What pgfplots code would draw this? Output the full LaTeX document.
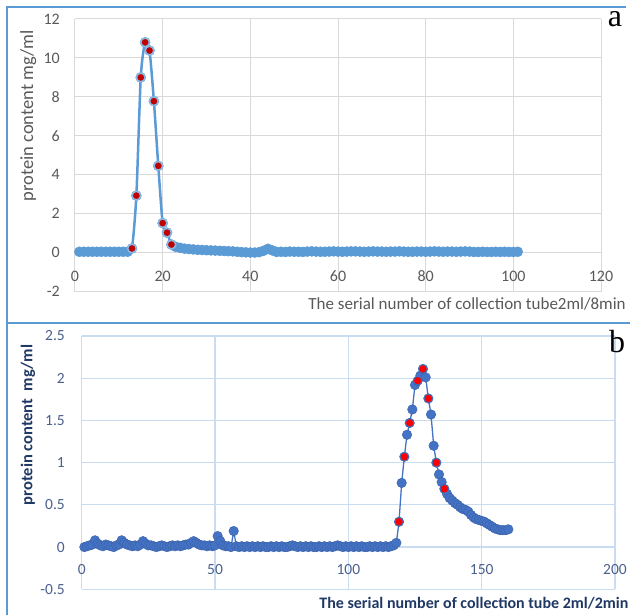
\documentclass[border=0pt]{standalone}
\usepackage{pgfplots}
\pgfplotsset{compat=1.18}
\usepackage{pgfplotstable}
\usepackage{fontspec}
\setmainfont{Carlito}
\newfontfamily\panelfont{Liberation Serif}

\definecolor{lineA}{HTML}{5B9BD5}
\definecolor{ringA}{HTML}{8DB8E2}
\definecolor{redA}{HTML}{C00000}
\definecolor{gridA}{HTML}{D9D9D9}
\definecolor{zeroA}{HTML}{BFBFBF}
\definecolor{textA}{HTML}{595959}
\definecolor{lineB}{HTML}{4472C4}
\definecolor{gridB}{HTML}{CADCF2}
\definecolor{tickB}{HTML}{4A5F8C}
\definecolor{labelB}{HTML}{1F3864}
\definecolor{frame}{HTML}{5B9BD5}

% panel a: tube number, protein content, c=1 for the red marked tubes
\pgfplotstableread[row sep=\\]{
x y c\\
1 0.05 0\\ 2 0.05 0\\ 3 0.05 0\\ 4 0.05 0\\ 5 0.05 0\\ 6 0.05 0\\
7 0.05 0\\ 8 0.05 0\\ 9 0.05 0\\ 10 0.05 0\\ 11 0.05 0\\ 12 0.05 0\\
13 0.22 1\\ 14 2.93 1\\ 15 9.0 1\\ 16 10.8 1\\ 17 10.38 1\\ 18 7.78 1\\
19 4.46 1\\ 20 1.52 1\\ 21 1.03 1\\ 22 0.42 1\\
23 0.30 0\\ 24 0.25 0\\ 25 0.21 0\\ 26 0.19 0\\ 27 0.17 0\\ 28 0.15 0\\
29 0.14 0\\ 30 0.13 0\\ 31 0.12 0\\ 32 0.11 0\\ 33 0.10 0\\ 34 0.09 0\\
35 0.08 0\\ 36 0.07 0\\ 37 0.05 0\\ 38 0.03 0\\ 39 0.02 0\\ 40 0.01 0\\
41 0.01 0\\ 42 0.03 0\\ 43 0.10 0\\ 44 0.20 0\\ 45 0.12 0\\ 46 0.04 0\\
47 0.05 0\\ 48 0.04 0\\ 49 0.06 0\\ 50 0.05 0\\ 51 0.05 0\\ 52 0.04 0\\
53 0.06 0\\ 54 0.07 0\\ 55 0.06 0\\ 56 0.05 0\\ 57 0.05 0\\ 58 0.06 0\\
59 0.07 0\\ 60 0.06 0\\ 61 0.05 0\\ 62 0.06 0\\ 63 0.07 0\\ 64 0.07 0\\
65 0.06 0\\ 66 0.05 0\\ 67 0.06 0\\ 68 0.07 0\\ 69 0.06 0\\ 70 0.06 0\\
71 0.05 0\\ 72 0.06 0\\ 73 0.06 0\\ 74 0.07 0\\ 75 0.06 0\\ 76 0.05 0\\
77 0.05 0\\ 78 0.06 0\\ 79 0.06 0\\ 80 0.05 0\\ 81 0.06 0\\ 82 0.07 0\\
83 0.06 0\\ 84 0.05 0\\ 85 0.06 0\\ 86 0.06 0\\ 87 0.05 0\\ 88 0.06 0\\
89 0.07 0\\ 90 0.06 0\\ 91 0.04 0\\ 92 0.04 0\\ 93 0.05 0\\ 94 0.04 0\\
95 0.04 0\\ 96 0.05 0\\ 97 0.04 0\\ 98 0.05 0\\ 99 0.04 0\\ 100 0.04 0\\
101 0.05 0\\
}\tubesA

% panel b
\pgfplotstableread[row sep=\\]{
x y c\\
1 0.00 0\\ 2 0.01 0\\ 3 0.02 0\\ 4 0.03 0\\ 5 0.08 0\\ 6 0.04 0\\
7 0.02 0\\ 8 0.01 0\\ 9 0.03 0\\ 10 0.02 0\\ 11 0.01 0\\ 12 0.00 0\\
13 0.02 0\\ 14 0.03 0\\ 15 0.08 0\\ 16 0.05 0\\ 17 0.03 0\\ 18 0.02 0\\
19 0.01 0\\ 20 0.02 0\\ 21 0.01 0\\ 22 0.03 0\\ 23 0.07 0\\ 24 0.04 0\\
25 0.02 0\\ 26 0.02 0\\ 27 0.01 0\\ 28 0.00 0\\ 29 0.01 0\\ 30 0.02 0\\
31 0.01 0\\ 32 0.00 0\\ 33 0.01 0\\ 34 0.02 0\\ 35 0.01 0\\ 36 0.02 0\\
37 0.01 0\\ 38 0.02 0\\ 39 0.03 0\\ 40 0.03 0\\ 41 0.05 0\\ 42 0.07 0\\
43 0.05 0\\ 44 0.03 0\\ 45 0.02 0\\ 46 0.02 0\\ 47 0.01 0\\ 48 0.02 0\\
49 0.01 0\\ 50 0.02 0\\ 51 0.13 0\\ 52 0.07 0\\ 53 0.02 0\\ 54 0.01 0\\
55 0.01 0\\ 56 0.00 0\\ 57 0.19 0\\ 58 0.01 0\\ 59 0.00 0\\ 60 0.01 0\\
61 0.00 0\\ 62 0.01 0\\ 63 0.00 0\\ 64 0.01 0\\ 65 0.00 0\\ 66 0.01 0\\
67 0.00 0\\ 68 0.01 0\\ 69 0.00 0\\ 70 0.00 0\\ 71 0.01 0\\ 72 0.00 0\\
73 0.01 0\\ 74 0.00 0\\ 75 0.01 0\\ 76 0.00 0\\ 77 0.00 0\\ 78 0.01 0\\
79 0.02 0\\ 80 0.01 0\\ 81 0.00 0\\ 82 0.01 0\\ 83 0.00 0\\ 84 0.01 0\\
85 0.00 0\\ 86 0.01 0\\ 87 0.00 0\\ 88 0.00 0\\ 89 0.01 0\\ 90 0.00 0\\
91 0.01 0\\ 92 0.00 0\\ 93 0.01 0\\ 94 0.00 0\\ 95 0.01 0\\ 96 0.02 0\\
97 0.01 0\\ 98 0.00 0\\ 99 0.01 0\\ 100 0.00 0\\ 101 0.01 0\\ 102 0.00 0\\
103 0.01 0\\ 104 0.00 0\\ 105 0.01 0\\ 106 0.00 0\\ 107 0.00 0\\ 108 0.01 0\\
109 0.00 0\\ 110 0.01 0\\ 111 0.00 0\\ 112 0.01 0\\ 113 0.00 0\\ 114 0.01 0\\
115 0.00 0\\ 116 0.01 0\\ 117 0.02 0\\ 118 0.05 0\\
119 0.30 1\\ 120 0.76 0\\ 121 1.07 1\\ 122 1.33 0\\ 123 1.47 1\\ 124 1.63 0\\
125 1.92 0\\ 126 1.97 1\\ 127 2.03 0\\ 128 2.11 1\\ 129 2.01 0\\ 130 1.76 1\\
131 1.57 0\\ 132 1.20 0\\ 133 1.00 1\\ 134 0.86 0\\ 135 0.77 0\\ 136 0.69 1\\
137 0.63 0\\ 138 0.58 0\\ 139 0.55 0\\ 140 0.52 0\\ 141 0.50 0\\ 142 0.47 0\\
143 0.45 0\\ 144 0.44 0\\ 145 0.42 0\\ 146 0.38 0\\ 147 0.35 0\\ 148 0.33 0\\
149 0.32 0\\ 150 0.31 0\\ 151 0.30 0\\ 152 0.28 0\\ 153 0.26 0\\ 154 0.24 0\\
155 0.22 0\\ 156 0.21 0\\ 157 0.20 0\\ 158 0.20 0\\ 159 0.20 0\\ 160 0.21 0\\
}\tubesB

\begin{document}
\begin{tikzpicture}[x=1pt,y=1pt]
\useasboundingbox (0pt,0pt) rectangle (630pt,615pt);

% panel frames
\draw[frame, line width=2pt] (7pt,0pt) -- (7pt,608pt) -- (626pt,608pt);
\draw[frame, line width=2pt] (7pt,292pt) -- (630pt,292pt);

% ---- panel a ----
\begin{axis}[
    at={(75pt,323.3pt)}, anchor=south west,
    scale only axis, width=526pt, height=272.7pt,
    xmin=0, xmax=120, ymin=-2, ymax=12,
    xtick={0,20,...,120}, ytick={-2,0,...,12},
    grid=major, major grid style={gridA, line width=1pt},
    axis line style={draw=none}, major tick length=0pt,
    extra y ticks={0}, extra y tick labels={},
    extra y tick style={grid style={zeroA, line width=1.2pt}},
    /pgf/number format/assume math mode=true,
    tick label style={font=\fontsize{16}{18}\selectfont, text=textA, inner sep=0pt},
    x tick label style={anchor=center, yshift=15.7pt},
    y tick label style={anchor=east, xshift=-15pt},
    xlabel={The serial number of collection tube2ml/8min},
    xlabel style={at={(axis description cs:0.437,-0.045)}, anchor=west,
        font=\fontsize{17}{20}\selectfont, text=textA},
    ylabel={protein content mg/ml},
    ylabel style={at={(axis description cs:-0.089,0.645)}, anchor=center,
        font=\fontsize{18.5}{20}\selectfont, text=textA},
    clip=false,
]
\addplot[lineA, line width=2.5pt, smooth, tension=0.4,
    mark=*, mark size=5pt, mark options={fill=lineA, draw=lineA, line width=0.5pt}]
    table[x=x, y=y] {\tubesA};
\addplot[only marks, mark=*, mark size=4.3pt,
    mark options={fill=redA, draw=ringA, line width=1.5pt},
    restrict expr to domain={\thisrow{c}}{1:1}]
    table[x=x, y=y] {\tubesA};
\end{axis}

% ---- panel b ----
\begin{axis}[
    at={(81.7pt,25.7pt)}, anchor=south west,
    scale only axis, width=533.3pt, height=253.3pt,
    xmin=0, xmax=200, ymin=-0.5, ymax=2.5,
    xtick={0,50,...,200}, ytick={-0.5,0,...,2.5},
    grid=major, major grid style={gridB, line width=1.2pt},
    axis line style={draw=none}, major tick length=0pt,
    /pgf/number format/assume math mode=true,
    tick label style={font=\fontsize{15.5}{18}\selectfont, text=tickB, inner sep=0pt},
    x tick label style={anchor=center, yshift=19.3pt},
    y tick label style={anchor=east, xshift=-16.7pt},
    xlabel={The serial number of collection tube 2ml/2min},
    xlabel style={at={(axis description cs:0.439,-0.054)}, anchor=west,
        font=\bfseries\fontsize{16}{18}\selectfont, text=labelB},
    ylabel={protein content\ \ mg/ml},
    ylabel style={at={(axis description cs:-0.1007,0.6486)}, anchor=center,
        font=\bfseries\fontsize{16.5}{18}\selectfont, text=labelB},
    clip=false,
]
\addplot[lineB, line width=1.3pt,
    mark=*, mark size=4.8pt, mark options={fill=lineB, draw=lineB!85!black, line width=0.4pt}]
    table[x=x, y=y] {\tubesB};
\addplot[only marks, mark=*, mark size=3.4pt,
    mark options={fill=red, draw=red},
    restrict expr to domain={\thisrow{c}}{1:1}]
    table[x=x, y=y] {\tubesB};
\end{axis}

% panel letters
\node[font=\panelfont\fontsize{32}{32}\selectfont, anchor=base] at (615pt,588.3pt) {a};
\node[font=\panelfont\fontsize{32}{32}\selectfont, anchor=base] at (617pt,262pt) {b};
\end{tikzpicture}
\end{document}
